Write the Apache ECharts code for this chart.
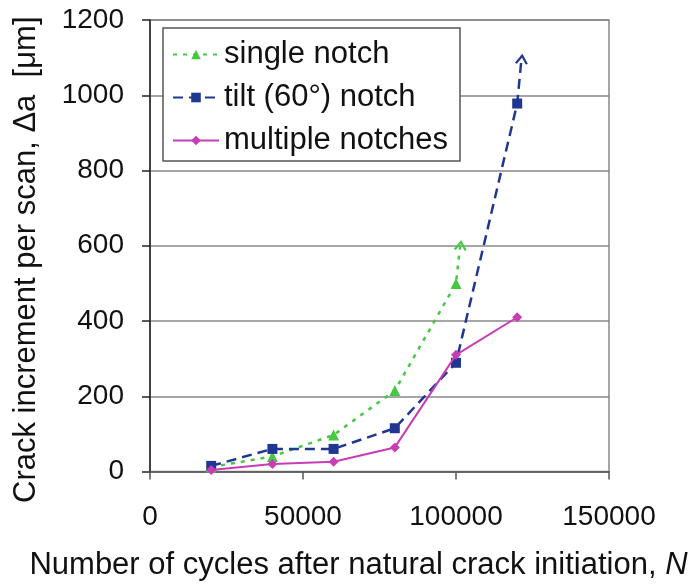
<!DOCTYPE html>
<html>
<head>
<meta charset="utf-8">
<script src="https://cdn.jsdelivr.net/npm/echarts@6/dist/echarts.min.js"></script>
<style>
html,body{margin:0;padding:0;background:#fff;}
#chart{width:697px;height:587px;}
</style>
</head>
<body>
<div id="chart"></div>
<script>
// ---- data ----
const seriesNames = ['single notch', 'tilt (60°) notch', 'multiple notches'];
const singleX = [20000, 40000, 60000, 80000, 100000, 101500];
const singleY = [12, 40, 97, 215, 500, 610];
const tiltX = [20000, 40000, 60000, 80000, 100000, 120000, 121500];
const tiltY = [15, 60, 60, 115, 289, 978, 1105];
const multiX = [20000, 40000, 60000, 80000, 100000, 120000];
const multiY = [4, 20, 26, 64, 310, 410];
const xTicks = [0, 50000, 100000, 150000];
const yTicks = [0, 200, 400, 600, 800, 1000, 1200];

const FONT = '"Liberation Sans", Arial, sans-serif';
const arrowPath = 'path://M0,10 L5,0 L10,10';

function build(xs, ys, color, arrowLast) {
  return xs.map((x, i) => {
    const d = { value: [x, ys[i]] };
    if (arrowLast && i === xs.length - 1) {
      d.symbol = arrowPath;
      d.symbolSize = [11, 8];
      d.symbolOffset = [0, 4];
      d.symbolRotate = -6;
      d.itemStyle = { color: 'rgba(0,0,0,0)', borderColor: color, borderWidth: 2 };
    }
    return d;
  });
}

const cGreen = '#45c945';
const cBlue = '#1f3790';
const cPink = '#c83cb6';

const chart = echarts.init(document.getElementById('chart'), null, { renderer: 'canvas' });
chart.setOption({
  animation: false,
  backgroundColor: '#ffffff',
  textStyle: { fontFamily: FONT },
  grid: { left: 150, right: 88, top: 20, bottom: 115.5, show: true, borderColor: '#888', borderWidth: 1.5 },
  legend: {
    data: seriesNames,
    orient: 'vertical',
    left: 163, top: 28,
    padding: [11, 12, 5, 9],
    itemWidth: 46, itemHeight: 12, itemGap: 12,
    backgroundColor: '#fff',
    borderColor: '#555', borderWidth: 1.5,
    textStyle: { fontSize: 31, color: '#111', fontFamily: FONT }
  },
  xAxis: {
    type: 'value', min: xTicks[0], max: xTicks[xTicks.length - 1], interval: xTicks[1] - xTicks[0],
    name: 'Number of cycles after natural crack initiation, {i|N}',
    nameLocation: 'middle', nameGap: 78,
    nameTextStyle: { fontSize: 31, color: '#111', fontFamily: FONT, padding: [0, 42, 0, 0],
      rich: { i: { fontSize: 31, fontStyle: 'italic', color: '#111', fontFamily: FONT } } },
    axisLine: { lineStyle: { color: '#555', width: 1.5 } },
    axisTick: { show: true, length: 8, inside: false, lineStyle: { color: '#555', width: 1.5 } },
    axisLabel: { fontSize: 28, color: '#111', margin: 32, fontFamily: FONT, formatter: v => String(v) },
    splitLine: { show: false }
  },
  yAxis: {
    type: 'value', min: yTicks[0], max: yTicks[yTicks.length - 1], interval: yTicks[1] - yTicks[0],
    name: 'Crack increment per scan, Δa  [μm]',
    nameLocation: 'middle', nameGap: 108, nameRotate: 90,
    nameTextStyle: { fontSize: 31, color: '#111', fontFamily: FONT, padding: [0, 28, 0, 0] },
    axisLine: { show: true, lineStyle: { color: '#222', width: 1.5 } },
    axisTick: { show: true, length: 8, inside: false, lineStyle: { color: '#222', width: 1.5 } },
    axisLabel: { fontSize: 28, color: '#111', margin: 26, fontFamily: FONT, formatter: v => String(v) },
    splitLine: { show: true, lineStyle: { color: '#888', width: 1.5 } }
  },
  series: [
    {
      name: seriesNames[0], type: 'line', data: build(singleX, singleY, cGreen, true),
      symbol: 'triangle', symbolSize: 11, showSymbol: true,
      lineStyle: { color: cGreen, width: 2.5, type: [4, 6] },
      itemStyle: { color: cGreen }, z: 2
    },
    {
      name: seriesNames[1], type: 'line', data: build(tiltX, tiltY, cBlue, true),
      symbol: 'rect', symbolSize: 10,
      lineStyle: { color: cBlue, width: 2.5, type: [10, 6] },
      itemStyle: { color: cBlue }, z: 3
    },
    {
      name: seriesNames[2], type: 'line', data: build(multiX, multiY, cPink, false),
      symbol: 'diamond', symbolSize: 10,
      lineStyle: { color: cPink, width: 2, type: 'solid' },
      itemStyle: { color: cPink }, z: 4
    }
  ]
});
</script>
</body>
</html>
